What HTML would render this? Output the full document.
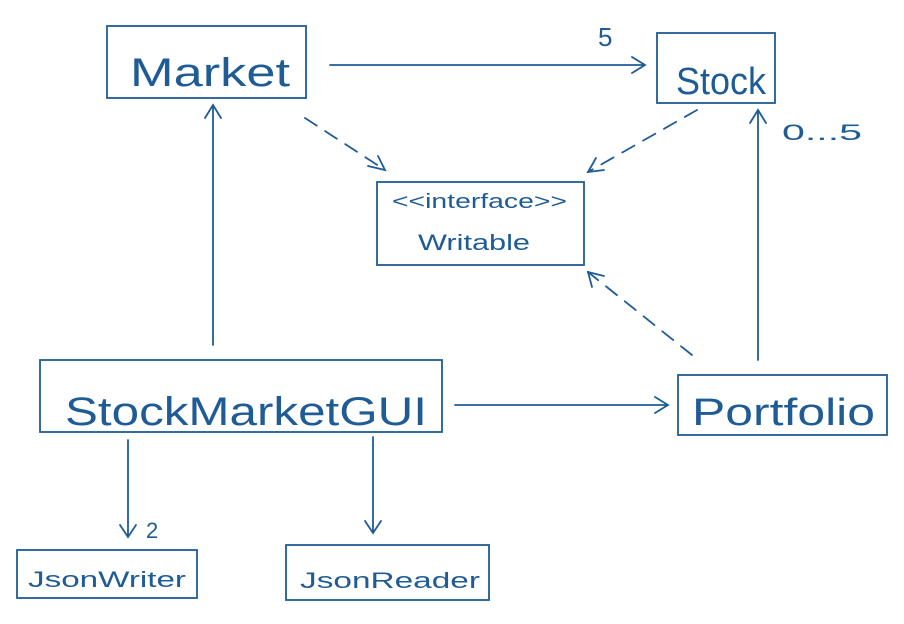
<!DOCTYPE html>
<html><head><meta charset="utf-8"><style>
html,body{margin:0;padding:0;background:#fff;}
svg{display:block;}
text{font-family:"Liberation Sans","DejaVu Sans",sans-serif;fill:#1f5c96;}
</style></head><body>
<svg width="904" height="624" viewBox="0 0 904 624" xmlns="http://www.w3.org/2000/svg">
<g fill="none" stroke="#1f5c96" stroke-width="1.8" stroke-linecap="round">
<rect x="107" y="26" width="199" height="72"/>
<rect x="657" y="33" width="118" height="70"/>
<rect x="377" y="182" width="207" height="83"/>
<rect x="40" y="360" width="402" height="72"/>
<rect x="678" y="375" width="209" height="60"/>
<rect x="17" y="550" width="180" height="48"/>
<rect x="286" y="545" width="203" height="55"/>
<path d="M330 65 L645 65 M632 57 L645 65 L632 73"/>
<path d="M305 118 L385 170" stroke-dasharray="14 10"/>
<path d="M368 166 L385 170 L378 156"/>
<path d="M697 110 L588 172" stroke-dasharray="14 10"/>
<path d="M596 158 L588 172 L604 170"/>
<path d="M692 355 L588 272" stroke-dasharray="14 10"/>
<path d="M592 287 L588 272 L604 276"/>
<path d="M213 345 L213 105 M205 118 L213 105 L221 118"/>
<path d="M758 360 L758 110 M750 123 L758 110 L766 123"/>
<path d="M455 405 L668 405 M655 397 L668 405 L655 413"/>
<path d="M128 440 L128 537 M120 525 L128 537 L136 525"/>
<path d="M373 437 L373 533 M365 521 L373 533 L381 521"/>
</g>
<text x="130" y="86" font-size="40" textLength="160" lengthAdjust="spacingAndGlyphs">Market</text>
<text x="676" y="94" font-size="38" textLength="90" lengthAdjust="spacingAndGlyphs">Stock</text>
<text x="392" y="208" font-size="20" textLength="175" lengthAdjust="spacingAndGlyphs">&lt;&lt;interface&gt;&gt;</text>
<text x="418" y="250" font-size="22" textLength="112" lengthAdjust="spacingAndGlyphs">Writable</text>
<text x="65" y="425" font-size="40" textLength="362" lengthAdjust="spacingAndGlyphs">StockMarketGUI</text>
<text x="692" y="425" font-size="38" textLength="183" lengthAdjust="spacingAndGlyphs">Portfolio</text>
<text x="28" y="587" font-size="22" textLength="158" lengthAdjust="spacingAndGlyphs">JsonWriter</text>
<text x="300" y="588" font-size="22" textLength="180" lengthAdjust="spacingAndGlyphs">JsonReader</text>
<text x="598" y="46" font-size="26">5</text>
<text x="782" y="140" font-size="22" textLength="80" lengthAdjust="spacingAndGlyphs">0...5</text>
<text x="146" y="538" font-size="22">2</text>
</svg>
</body></html>
